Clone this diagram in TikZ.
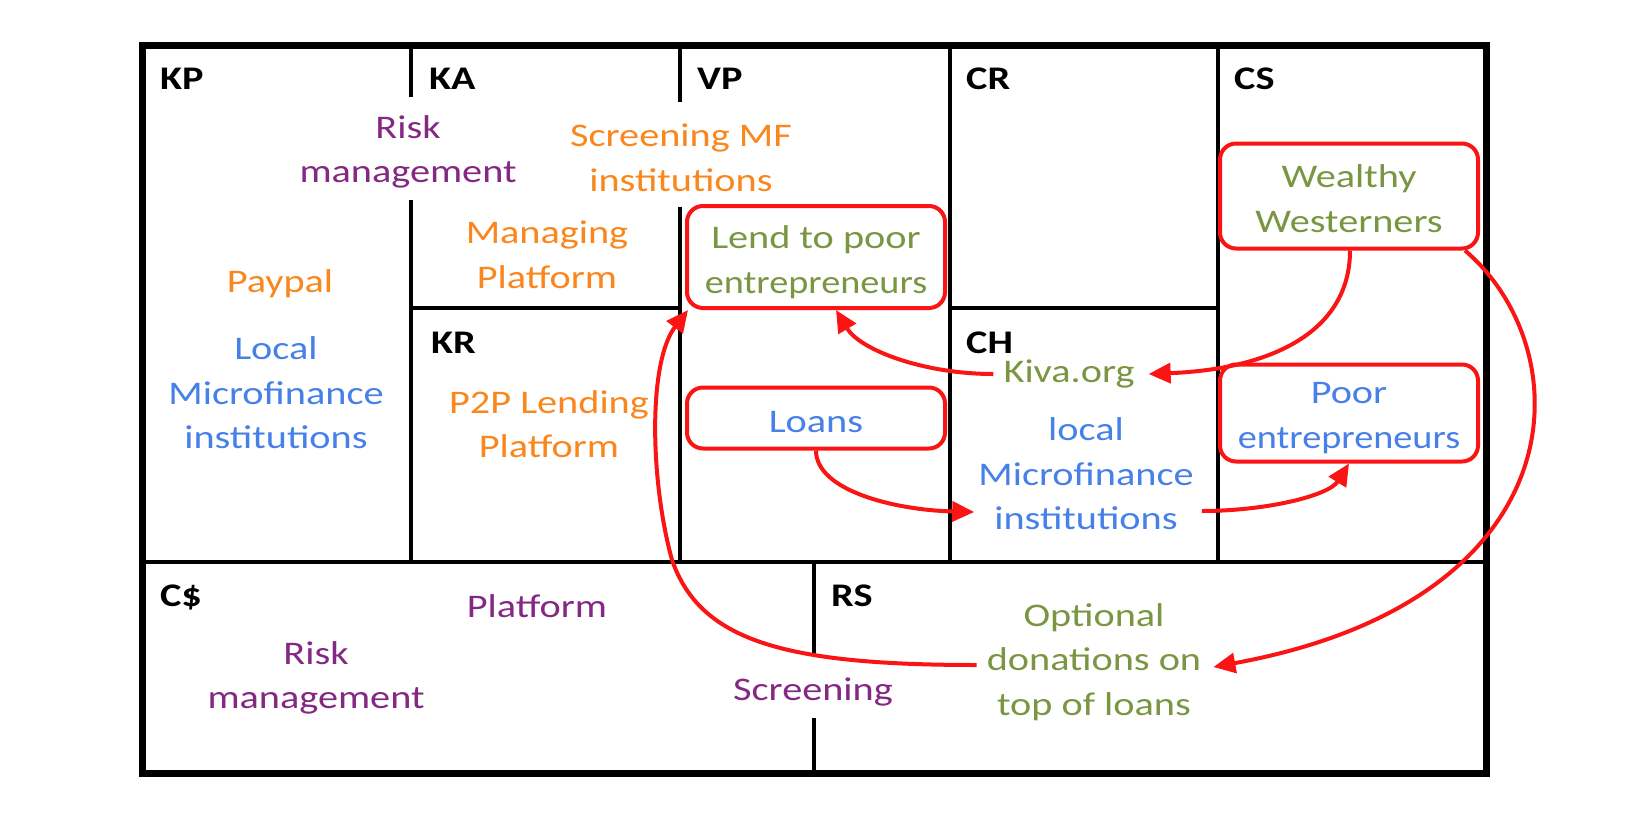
\documentclass[tikz,border=0pt]{standalone}
\usepackage{fontspec}
\setmainfont[FakeStretch=1.22]{Carlito}
\usepackage{graphicx}
\usetikzlibrary{arrows.meta,calc}
\definecolor{kred}{RGB}{250,20,20}
\definecolor{kgreen}{RGB}{122,150,66}
\definecolor{kblue}{RGB}{70,128,232}
\definecolor{korange}{RGB}{250,135,30}
\definecolor{kpurple}{RGB}{132,40,132}
\newcommand\kfs{\fontsize{33}{44.5}\selectfont}
\newcommand\kent{\scalebox{0.95}[1]{entrepreneurs}}
\newcommand\kup[1]{\rule{0pt}{#1}}
\tikzset{
  div/.style={line width=4pt},
  txt/.style={align=center, inner sep=0pt, font=\kfs},
  lbl/.style={anchor=base west, inner sep=0pt, font=\kfs\bfseries},
  rbox/.style={draw=kred, line width=4pt, rounded corners=16pt, align=center,
    minimum width=258pt, inner sep=0pt, font=\kfs},
  arr/.style={draw=kred, line width=4pt, -{Triangle[length=22pt,width=20pt]}},
}
\begin{document}
\begin{tikzpicture}[x=1pt,y=-1pt]
\useasboundingbox[fill=white] (0,0) rectangle (1650,836);
% frame and dividers
\draw[line width=7pt, line join=miter] (142,45) rectangle (1486,773);
\draw[div] (142,562) -- (1486,562);
\draw[div] (411,45) -- (411,97) (411,200) -- (411,562);
\draw[div] (680,45) -- (680,102) (680,207) -- (680,562);
\draw[div] (950,45) -- (950,562);
\draw[div] (1218,45) -- (1218,562);
\draw[div] (411,308) -- (680,308);
\draw[div] (950,308) -- (1218,308);
\draw[div] (814,562) -- (814,655) (814,718) -- (814,773);
% block labels
\node[lbl] (kp) at (160,89) {KP};
\node[lbl] (ka) at (429,89) {KA};
\node[lbl] (vp) at (697,89) {VP};
\node[lbl] (cr) at (966,89) {CR};
\node[lbl] (cs) at (1234,89) {CS};
\node[lbl] (kr) at (431,353) {KR};
\node[lbl] (ch) at (966,353) {CH};
\node[lbl] (cc) at (160,606) {C\$};
\node[lbl] (rs) at (831,606) {RS};
% texts
\node[txt, text=kpurple] (riskA) at (408,152) {Risk\\management};
\node[txt, text=korange] (screenMF) at (681,158) {Screening MF\\institutions};
\node[txt, text=korange] (managing) at (547,255) {Managing\\Platform};
\node[txt, text=korange] (paypal) at (280,284) {Paypal};
\node[txt, text=kblue] (localKP) at (276,393) {Local\\Microfinance\\institutions};
\node[txt, text=korange] (p2p) at (549,424) {P2P Lending\\Platform};
\node[rbox, minimum height=102pt, text=kgreen] (lend) at (816,257) {\kup{33pt}Lend to poor\\\kent};
\node[rbox, minimum height=61pt, text=kblue] (loans) at (816,418) {\kup{29pt}Loans};
\node[txt, text=kgreen] (kiva) at (1069,374) {Kiva.org};
\node[txt, text=kblue] (localCH) at (1086,474) {local\\Microfinance\\institutions};
\node[rbox, minimum height=105pt, text=kgreen] (wealthy) at (1349,196) {\kup{28pt}Wealthy\\Westerners};
\node[rbox, minimum height=97pt, text=kblue] (poor) at (1349,413) {\kup{31pt}Poor\\\kent};
\node[txt, text=kpurple] (platform) at (537,606) {Platform};
\node[txt, text=kpurple] (riskB) at (316,678) {Risk\\management};
\node[txt, text=kpurple] (screening) at (813,692) {Screening};
\node[txt, text=kgreen] (optional) at (1094,662) {Optional\\donations on\\top of loans};
% connectors
\coordinate (bend6) at (672,560);
\draw[arr] ([xshift=-10pt]kiva.west) .. controls +(-70,0) and +(24,40) .. ([xshift=20pt]lend.south);
\draw[arr] ([xshift=1pt]wealthy.south) .. controls +(0,80) and +(125,-5) .. ([xshift=14pt]kiva.east);
\draw[arr] (loans.south) .. controls +(0,40) and +(-80,-2) .. ([xshift=-4pt,yshift=-38pt]localCH.west);
\draw[arr] ([xshift=8pt,yshift=-37pt]localCH.east) .. controls +(65,0) and +(-20,32) .. (poor.south);
\draw[arr] ([xshift=-15pt]wealthy.south east) .. controls +(117,100) and +(367,-67) .. ([xshift=12pt,yshift=-5pt]optional.east);
\draw[arr] ([xshift=-10pt,yshift=-3pt]optional.west) .. controls +(-195,0) and +(28,80) .. (bend6) .. controls +(-22,-80) and +(-40,52) .. ([xshift=3pt]lend.south west);
\end{tikzpicture}
\end{document}
